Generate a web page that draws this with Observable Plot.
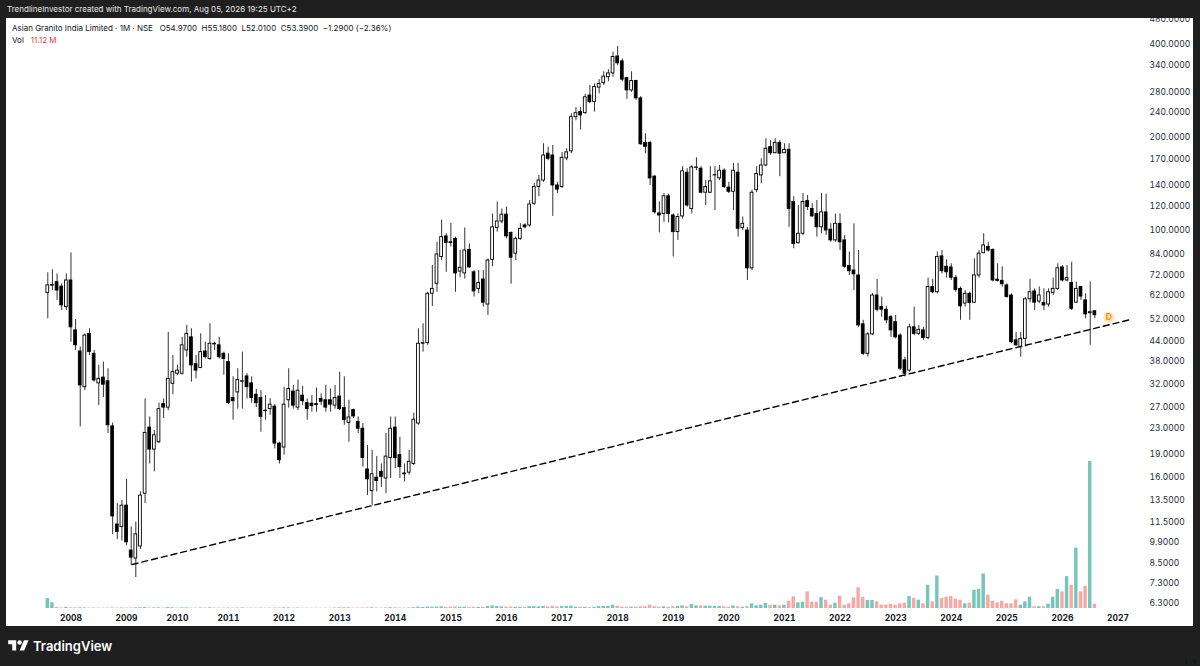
<!DOCTYPE html>
<html><head><meta charset="utf-8">
<script src="https://cdn.jsdelivr.net/npm/d3@7"></script>
<script src="https://cdn.jsdelivr.net/npm/@observablehq/plot@0.6"></script>
<style>
html,body{margin:0;padding:0;background:#1f1f1f;}
#wrap{position:relative;width:1200px;height:666px;overflow:hidden;background:#1f1f1f;font-family:Inter,"Noto Sans",sans-serif;}
#panel{position:absolute;left:6px;top:18px;width:1187px;height:608px;background:#fff;}
#topbar{position:absolute;left:0;top:0;width:1200px;height:18px;background:#1f1f1f;z-index:10;color:#e8e8e8;font-size:8px;line-height:18px;padding-left:7px;box-sizing:border-box;white-space:nowrap;}
#legend{position:absolute;left:12px;top:22px;z-index:5;font-size:8px;color:#131722;line-height:12px;white-space:pre;}
#legend .red{color:#f23645;margin-left:7px;}
#logo{position:absolute;left:8px;top:638px;height:16px;display:flex;align-items:center;color:#fff;font-size:13px;font-weight:600;z-index:5;}
#logo svg{margin-right:4px;}
</style></head><body><div id="wrap">
<div id="panel"></div>
<div id="topbar">TrendlineInvestor created with TradingView.com, Aug 05, 2026 19:25 UTC+2</div>
<div id="legend"><div>Asian Granito India Limited · 1M · NSE   O54.9700  H55.1800  L52.0100  C53.3900  −1.2900 (−2.36%)</div><div><span>Vol</span><span class="red">11.12 M</span></div></div>
<div id="logo"><svg width="21" height="16" viewBox="0 0 36 28"><path d="M14 22H7V11H0V4h14v18z" fill="#fff"/><circle cx="20" cy="8" r="4" fill="#fff"/><path d="M28 22h-8l7.5-18h8L28 22z" fill="#fff"/></svg><span>TradingView</span></div>
</div>
<script>
const opens = [
62.9, 66.5, 68.2, 66.0, 56.7, 69.1, 47.7, 40.8, 31.3, 46.5,
40.1, 32.2, 33.6, 32.7, 23.4, 11.3, 11.1, 13.0, 9.32, 8.78,
9.6, 14.2, 23.2, 19.7, 20.8, 27.6, 26.9, 32.1, 34.6, 34.6,
41.1, 45.3, 37.1, 36.1, 40.8, 38.6, 43.0, 42.7, 40.1, 37.7,
28.9, 30.1, 32.7, 33.9, 32.2, 29.6, 28.9, 26.3, 26.6, 27.1,
20.6, 20.0, 28.4, 30.3, 26.9, 29.4, 27.8, 27.7, 27.6, 28.7,
28.4, 28.4, 27.3, 29.2, 26.8, 24.0, 26.4, 24.2, 23.0, 17.0,
14.5, 16.0, 16.7, 15.9, 18.5, 23.2, 18.9, 16.5, 16.6, 17.7,
23.9, 43.2, 43.4, 62.6, 67.4, 82.2, 95.8, 91.7, 94.0, 73.8,
72.8, 86.7, 73.4, 64.9, 69.6, 57.8, 80.5, 102.0, 107.0, 112.6,
98.3, 84.3, 94.1, 103.9, 103.9, 122.1, 138.2, 145.0, 177, 174.6,
139.8, 138.2, 170.9, 180.1, 232, 241, 239, 272.5, 259.6, 289,
298.6, 312, 321, 364, 351, 310, 283, 303.6, 266.7, 191.8,
191.8, 149.3, 113.6, 113.1, 129, 111.9, 98.9, 111.1, 153.7, 117.5,
159.3, 158.3, 132.5, 132.5, 150.6, 147.3, 156, 137.6, 133.4, 153.7,
102, 100.1, 75.6, 135, 150.6, 162.1, 185.8, 177.6, 191.8, 177.6,
182.1, 123.7, 91.1, 97.7, 124.5, 117.5, 113.1, 102.5, 114.5, 100.7,
93.0, 105.2, 93.0, 76.9, 74.4, 71.7, 49.9, 40.1, 46.3, 61.8,
56.7, 55.6, 52.6, 50.7, 45.9, 38.2, 35.4, 48.8, 46.5, 47.7,
45.1, 65.8, 63.3, 82.6, 76.5, 76.1, 70.3, 64.9, 58.2, 62.6,
58.6, 71.7, 84.6, 88.6, 86.7, 69.5, 68.9, 66.6, 61.8, 44.3,
42.2, 44.8, 60.1, 63.7, 59.1, 58.5, 57.8, 63.0, 64.9, 76.1,
69.1, 67.8, 58.6, 65.8, 59.6, 54.2, 54.97];
const highs = [
73.1, 74.8, 72.5, 67.4, 72.5, 84.8, 51.7, 42.2, 46.5, 48.3,
41.1, 36.8, 37.7, 35.9, 24.0, 13.2, 13.5, 15.8, 11.1, 11.5,
14.4, 28.7, 25.1, 22.7, 27.8, 28.7, 47.0, 39.6, 36.8, 45.3,
49.5, 48.3, 39.6, 46.5, 43.7, 50.1, 43.7, 45.3, 40.6, 40.1,
33.8, 35.9, 40.6, 34.6, 33.8, 30.8, 30.5, 29.4, 28.7, 27.5,
20.8, 31.3, 35.9, 31.7, 33.0, 31.5, 28.7, 29.4, 31.1, 29.8,
31.7, 30.9, 31.7, 35.0, 33.8, 28.4, 26.6, 25.1, 23.9, 20.3,
19.6, 18.7, 17.7, 22.2, 25.1, 25.1, 21.6, 17.7, 19.6, 25.8,
48.3, 50.1, 63.3, 77.2, 91.7, 108.2, 97.7, 105.5, 95.3, 86.3,
102.0, 90.6, 74.4, 74.4, 74.4, 81.1, 113.1, 123.7, 117.4, 119.0,
99.0, 95.3, 105.2, 105.2, 125.1, 141.8, 150.6, 190.6, 185.8, 188.1,
143.1, 178.7, 183.6, 238, 249, 249, 275, 293.5, 297, 306.5,
325, 330, 376, 392, 357, 312, 325, 305, 270.4, 205,
193.6, 150.3, 123.7, 131.8, 131, 113.1, 113.1, 160.7, 158.3, 162.1,
171.7, 160.7, 145, 160.7, 160.7, 162.1, 158.3, 143.1, 164.7, 164.7,
110.6, 102.5, 135, 160.7, 170.4, 197.6, 195, 197.6, 195, 190.6,
190.6, 128.6, 120.5, 131.6, 129.8, 122.1, 125.1, 131.6, 131, 105.2,
113.1, 113.1, 96.5, 85.3, 105.2, 86.3, 51.4, 47.0, 62.7, 69.7,
61.1, 57.0, 53.3, 53.3, 46.5, 39.1, 49.9, 56.7, 49.5, 48.8,
70.3, 69.7, 85.3, 86.3, 80.5, 78.2, 71.7, 65.8, 64.1, 63.3,
81.1, 86.3, 97.7, 91.7, 87.3, 78.2, 76.5, 67.4, 62.6, 47.0,
47.0, 60.8, 69.7, 64.9, 65.8, 64.9, 64.9, 70.3, 78.2, 77.2,
77.2, 79.1, 68.3, 66.0, 62.6, 68.3, 55.18];
const lows = [
52.0, 64.1, 59.6, 55.3, 55.3, 43.7, 41.1, 23.3, 30.5, 39.6,
32.5, 27.3, 29.0, 22.2, 10.5, 10.1, 10.0, 9.66, 8.35, 7.62,
9.4, 13.2, 17.7, 16.7, 20.6, 24.8, 26.3, 29.6, 34.2, 34.2,
39.1, 32.5, 33.3, 35.9, 38.6, 38.2, 41.1, 38.6, 34.2, 27.5,
24.5, 26.6, 26.6, 28.7, 27.8, 26.9, 22.4, 24.5, 25.4, 19.8,
17.7, 18.9, 26.8, 26.6, 26.3, 27.3, 24.5, 26.0, 26.0, 27.3,
26.0, 26.0, 26.6, 26.3, 23.6, 20.8, 24.8, 22.2, 17.3, 14.0,
13.0, 14.4, 14.9, 14.2, 15.9, 17.1, 15.9, 15.5, 16.3, 17.5,
23.6, 40.6, 42.7, 57.0, 63.3, 80.1, 73.4, 88.6, 63.3, 70.5,
69.8, 75.6, 61.1, 62.6, 56.7, 53.3, 76.5, 98.9, 105.2, 94.1,
67.2, 80.1, 93.0, 101.3, 102.5, 120.5, 128.6, 143.1, 168, 111.1,
131.6, 136.7, 168, 177, 226, 211, 237, 256.4, 241, 276,
293.5, 302, 312, 340, 302, 264.8, 279, 263, 188.1, 177,
139.8, 113.1, 98.3, 106.3, 105.9, 82.2, 93.0, 109.1, 119.1, 113.1,
156, 131.6, 120.5, 131.6, 116.1, 145, 136.7, 131.6, 116.1, 95.3,
100.1, 69.1, 74.4, 132.5, 141.8, 160.7, 174.6, 177, 149.3, 177,
102.5, 87.4, 90.6, 96.5, 116.1, 110.6, 95.3, 97.7, 96.5, 91.7,
91.7, 86.3, 75.6, 71.7, 64.1, 48.8, 39.6, 39.1, 45.9, 54.7,
52.6, 50.1, 45.3, 44.8, 35.4, 33.8, 35.0, 45.9, 45.9, 44.3,
44.5, 62.6, 62.6, 72.5, 70.3, 69.1, 63.3, 51.4, 56.7, 51.4,
58.2, 70.3, 84.3, 85.3, 68.3, 68.3, 65.8, 60.6, 43.2, 42.4,
39.1, 42.2, 58.6, 55.3, 58.2, 55.3, 56.7, 61.8, 64.1, 68.3,
68.3, 55.3, 58.2, 59.6, 52.0, 42.7, 52.01];
const closes = [
66.6, 66.8, 64.1, 57.4, 69.1, 48.8, 42.7, 31.7, 45.9, 40.6,
32.9, 33.3, 31.9, 23.6, 12.0, 10.7, 13.0, 9.9, 8.84, 10.5,
14.0, 22.3, 19.7, 21.9, 26.6, 26.9, 33.3, 35.0, 35.4, 42.7,
46.5, 36.8, 35.4, 40.6, 39.1, 43.2, 43.2, 39.1, 38.6, 27.8,
28.2, 33.0, 32.6, 31.3, 28.9, 27.8, 25.1, 26.2, 27.5, 20.6,
18.2, 27.5, 30.9, 27.3, 30.5, 28.2, 26.6, 27.2, 27.4, 28.1,
26.9, 27.5, 28.9, 26.6, 24.5, 25.0, 25.2, 23.0, 18.5, 15.8,
16.4, 15.6, 16.1, 18.7, 23.0, 18.5, 17.3, 16.4, 18.0, 24.6,
43.2, 43.4, 62.6, 64.9, 83.8, 95.3, 91.2, 91.2, 72.8, 75.9,
86.3, 76.1, 63.7, 67.8, 58.6, 80.1, 102.5, 107.0, 112.6, 95.8,
81.8, 94.1, 101.3, 102.5, 121.4, 138.2, 145.0, 174.6, 170.4, 139.8,
135.6, 171.7, 178.7, 232, 239, 235, 269, 259.6, 290, 297,
313.5, 321, 362.5, 346, 306.5, 283, 303.6, 266.7, 189.8, 186.2,
147.3, 114.5, 111.9, 129, 113.1, 98.9, 110.6, 155.3, 120.5, 159.8,
159.8, 132.5, 138.2, 144.1, 150.9, 156, 138.2, 133.4, 156, 101.4,
105.2, 75.6, 132.5, 152.3, 162.1, 183.6, 177.6, 191.8, 177, 182.1,
117.5, 90.6, 97.7, 123.7, 119.1, 111.1, 102.5, 114.5, 100.1, 93.0,
105.2, 91.7, 76.5, 74.0, 72.3, 49.5, 40.1, 46.3, 61.8, 55.6,
55.6, 51.4, 47.7, 45.3, 35.9, 34.6, 48.8, 46.5, 47.9, 45.1,
65.8, 63.3, 82.2, 74.0, 73.4, 70.5, 64.4, 57.0, 62.6, 58.5,
71.7, 84.3, 89.6, 86.3, 69.1, 68.9, 67.2, 61.1, 43.7, 42.7,
44.8, 60.1, 63.3, 58.6, 61.8, 57.4, 63.3, 64.9, 75.6, 69.1,
70.3, 56.0, 64.9, 61.3, 53.7, 54.6, 53.39];
const volumes = [
25.6, 15.0, 2.6, 1.4, 3.0, 1.8, 1.6, 2.2, 1.4, 1.2,
1.3, 1.0, 1.1, 1.2, 1.5, 1.2, 1.4, 1.3, 1.6, 1.8,
2.0, 2.4, 1.5, 1.6, 1.8, 1.2, 2.6, 1.8, 1.0, 1.5,
1.6, 1.4, 1.1, 1.3, 1.2, 1.8, 1.0, 1.2, 1.1, 1.5,
1.2, 1.3, 1.8, 1.0, 1.1, 1.0, 1.2, 1.0, 1.0, 1.3,
1.4, 1.6, 1.5, 1.1, 1.2, 1.0, 1.0, 0.9, 1.0, 0.8,
1.0, 0.9, 1.2, 2.2, 2.0, 1.8, 1.0, 1.1, 1.5, 1.6,
1.8, 1.2, 1.0, 1.5, 2.0, 1.8, 1.3, 1.2, 1.4, 2.2,
3.5, 2.8, 3.6, 3.0, 3.4, 4.2, 3.0, 3.2, 4.0, 2.8,
3.4, 3.0, 3.2, 2.8, 3.0, 5.0, 6.8, 5.2, 4.0, 3.6,
3.8, 3.0, 3.2, 3.0, 4.8, 5.0, 4.5, 5.2, 4.0, 5.6,
4.2, 5.0, 5.8, 6.0, 3.5, 3.6, 3.0, 2.6, 3.0, 5.1,
5.1, 5.1, 8.5, 6.0, 3.4, 3.4, 3.4, 3.4, 4.3, 4.3,
8.5, 4.3, 3.4, 4.3, 3.4, 4.3, 5.1, 6.8, 4.3, 10.2,
6.8, 6.8, 6.0, 6.0, 5.1, 5.1, 4.3, 3.4, 6.8, 4.3,
3.4, 5.1, 12.0, 6.8, 8.5, 12.8, 8.5, 8.5, 6.8, 8.5,
18.8, 30.0, 14.5, 16.2, 42.7, 16.2, 16.2, 28.2, 21.4, 8.5,
13.7, 31.6, 8.5, 12.0, 27.3, 53.0, 28.2, 20.5, 20.5, 17.1,
8.5, 8.5, 10.2, 8.5, 12.0, 13.7, 30.7, 25.6, 21.4, 12.0,
59.8, 17.1, 83.7, 25.6, 29.0, 30.7, 23.9, 21.4, 12.0, 13.7,
47.0, 48.7, 88.8, 34.2, 18.8, 14.5, 18.8, 12.0, 12.0, 22.2,
8.5, 17.1, 29.0, 4.3, 4.3, 4.3, 11.1, 29.0, 48.7, 42.7,
82.0, 59.8, 155.4, 42.7, 57.2, 378.3, 11.12];

// Year labels sit on the January bar of each year (bar index)
const yearTickIndex = [5, 17, 28, 39, 51, 63, 75, 87, 99, 111, 123, 135, 147, 159, 171, 183, 195, 207, 219, 231];
const yearLabels = ["2008","2009","2010","2011","2012","2013","2014","2015","2016","2017","2018","2019","2020","2021","2022","2023","2024","2025","2026","2027"];
const priceTicks = [480, 400, 340, 280, 240, 200, 170, 140, 120, 100, 84, 72, 62, 52, 44, 38, 32, 27, 23, 19, 16, 13.5, 11.5, 9.9, 8.5, 7.3, 6.3];

// Trendline anchors (bar index, price)
const trendIndex = [18.2, 233.7];
const trendPrice = [8.40, 51.7];

// Dividend marker
const divIndex = [229];
const divPrice = [52.5];
const divText = ["D"];

const bars = opens.map((o, i) => ({
  i, open: o, high: highs[i], low: lows[i], close: closes[i], volume: volumes[i], up: closes[i] >= o
}));
const trend = trendIndex.map((x, k) => ({i: x, p: trendPrice[k]}));
const divs = divIndex.map((x, k) => ({i: x, p: divPrice[k], t: divText[k]}));
const labelByTick = new Map(yearTickIndex.map((t, k) => [t, yearLabels[k]]));

const W = 1200, H = 666;
const xDomain = [-8.914, 234.77];
const common = {
  width: W, height: H, marginLeft: 6, marginRight: 65, marginBottom: 58
};
const fontFam = "Inter, 'Noto Sans', sans-serif";

const volPlot = Plot.plot({
  ...common,
  marginTop: 461,
  x: {type: "linear", domain: xDomain, axis: null},
  y: {type: "linear", domain: [0, d3.max(volumes)], axis: null},
  color: {type: "identity"},
  style: {position: "absolute", left: "0px", top: "0px", background: "transparent", overflow: "visible"},
  marks: [
    Plot.rectY(bars, {x1: d => d.i - 0.37, x2: d => d.i + 0.37, y: "volume", fill: d => d.up ? "#74c6b8" : "#f7a7a4"})
  ]
});

const pricePlot = Plot.plot({
  ...common,
  marginTop: 18,
  x: {type: "linear", domain: xDomain, axis: null},
  y: {type: "log", domain: [6.06, 482.5], axis: null},
  color: {type: "identity"},
  style: {position: "absolute", left: "0px", top: "0px", background: "transparent", overflow: "visible", fontFamily: fontFam, fontSize: "8.5px", color: "#131722"},
  marks: [
    Plot.ruleX(bars, {x: "i", y1: "low", y2: "high", stroke: "#333", strokeWidth: 1}),
    Plot.rect(bars, {x1: d => d.i - 0.3, x2: d => d.i + 0.3, y1: "open", y2: "close", fill: d => d.up ? "#ffffff" : "#000000", stroke: "#000", strokeWidth: 0.9}),
    Plot.line(trend, {x: "i", y: "p", stroke: "#000", strokeWidth: 1.4, strokeDasharray: "6,4"}),
    Plot.dot(divs, {x: "i", y: "p", r: 5.5, fill: "#ffe3bd"}),
    Plot.text(divs, {x: "i", y: "p", text: "t", fill: "#ff8f00", fontWeight: "bold", fontSize: 8.5}),
    Plot.axisY(priceTicks, {anchor: "right", tickSize: 0, tickPadding: 14, tickFormat: d => d.toFixed(4), fontSize: 8.5, color: "#2a2e39"}),
    Plot.axisX(yearTickIndex, {anchor: "bottom", tickSize: 0, tickPadding: 6.5, tickFormat: d => labelByTick.get(d), fontSize: 8.5, fontWeight: "bold", color: "#131722"})
  ]
});

const panel = document.getElementById("panel");
panel.after(volPlot);
volPlot.after(pricePlot);
</script>
</body></html>
